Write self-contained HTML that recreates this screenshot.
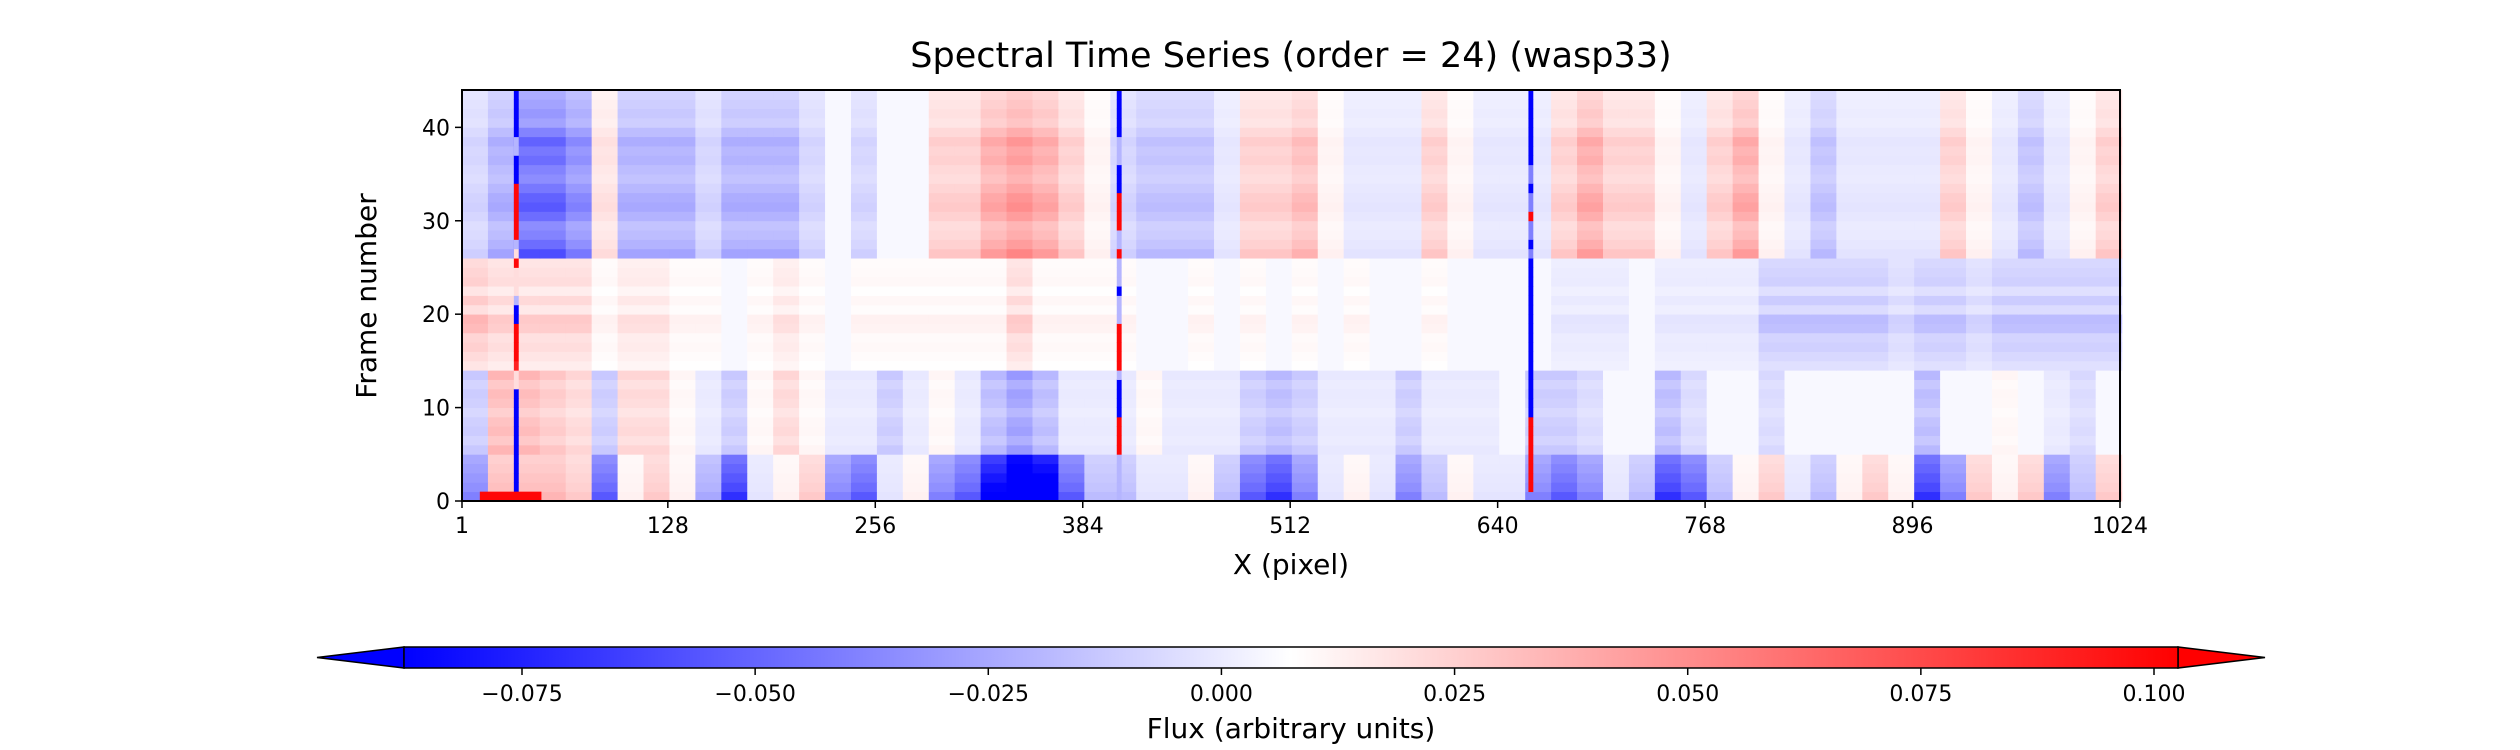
<!DOCTYPE html>
<html><head><meta charset="utf-8"><style>
html,body{margin:0;padding:0;background:#fff;}
svg{display:block;font-family:"DejaVu Sans","Liberation Sans",sans-serif;}
</style></head><body>
<svg id="chart" width="2520" height="750" xmlns="http://www.w3.org/2000/svg">
<text x="1291" y="67" font-size="35" text-anchor="middle" fill="#000">Spectral Time Series (order = 24) (wasp33)</text>
<g id="heat"></g>
<g id="axes"></g>
<g id="cbar"></g>
</svg>
<script>
// ---- data (flux values in units of 0.01) ----
const xTicks = [1,128,256,384,512,640,768,896,1024];
const yTicks = [0,10,20,30,40];
const cbTicks = [-0.075,-0.050,-0.025,0.000,0.025,0.050,0.075,0.100];
const cbLabels = ["\u22120.075","\u22120.050","\u22120.025","0.000","0.025","0.050","0.075","0.100"];
const bandStarts = [0,5,14,26];
const bandTop = [-1,-2,-4,-4,-3,1,-2,-2,-2,-1,-2,-2,-2,-1,0,-1,0,0,1.5,1.5,2.5,3,2.5,1.5,0.5,-1,-1.5,-1.5,-1.5,-0.5,1.5,1.5,2,0.5,-0.5,-0.5,-0.5,1.5,0.5,-0.5,-0.5,-0.5,1.5,2.5,1.5,1.5,0.5,-0.5,1.5,2.5,0.5,-0.5,-1.5,-0.5,-0.5,-0.5,-0.5,1.5,0.5,-0.5,-1.5,-0.5,0.5,1.5];
const bandMid = [2,1.5,1.5,1.5,1.5,0.5,1,1,0.5,0.5,0,0.5,1,0.5,0,0.5,0.5,0.5,0.5,0.5,0.5,1.5,0.5,0.5,0.5,0.5,0,0,0.5,0,0.5,0,0.5,0,0.5,0,0,0.5,0,0,0,0,-0.5,-0.5,-0.5,0,-0.5,-0.5,-0.5,-0.5,-1.5,-1.5,-1.5,-1.5,-1.5,-1,-1.5,-1.5,-1,-1.5,-1.5,-1.5,-1.5,-1.5];
const bandLow = [-1.5,2.5,2.5,2,1.5,-1.5,1.5,1.5,0.5,-0.5,-1.5,0.5,1.5,0.5,-0.5,-0.5,-1.5,-0.5,0.5,-0.5,-2,-3,-2,-0.5,-0.5,-0.5,0.5,-0.5,-0.5,-0.5,-1.5,-2,-1.5,-0.5,-0.5,-0.5,-1.5,-0.5,-0.5,-0.5,0,-1.5,-1.5,-1,0,0,-2,-1,0,0,-1,0,0,0,0,0,-2,0,0,0.5,0,-0.5,-1,0];
const bandBot = [-3,2,2,2,1.5,-4,0.5,1.5,0.5,-2,-5,-0.5,0.5,1.5,-3,-4,-0.5,0.5,-3,-4,-7,-9,-8,-4,-1.5,-1.5,-0.5,-0.5,0.5,-1.5,-4,-5,-3,-0.5,0.5,-0.5,-3,-1.5,0.5,-0.5,-0.5,-3,-4,-3,-0.5,-1.5,-5,-4,-1.5,0.5,1.5,-0.5,-1.5,0.5,1.5,0.5,-5,-3,1.5,0.5,1.5,-3,-1.5,1.5];
const rowScale = [1.5,1.3,1.2,1.1,1.0,1.2,0.9,1.1,1.0,0.8,1.0,1.1,0.9,1.2,0.6,0.8,1.0,0.9,1.4,1.5,0.7,1.1,0.6,1.0,0.9,0.8,1.6,1.3,1.1,1.0,1.3,1.5,1.4,1.2,1.0,1.1,1.3,1.2,1.4,1.1,0.8,0.9,0.8,0.7];
const lineA = [-5,-9,-9,-9,-9,-9,-9,-9,-9,-9,-9,-9,2,2,9,10,10,10,10,-9,-9,-2,2,2,2,10,2,-2,10,10,10,10,10,10,-9,-9,-9,-2,-2,-9,-9,-9,-9,-9];
const lineB = [-2,-2,-2,-2,-2,10,10,10,10,-9,-9,-9,-9,-2,10,10,10,10,10,-2,-2,-2,-9,-2,-2,-2,10,-2,-2,10,10,10,10,-9,-9,-9,-2,-2,-2,-9,-9,-9,-9,-9];
const lineC = [-4,10,10,10,10,10,10,10,10,-9,-9,-9,-9,-9,-9,-9,-9,-9,-9,-9,-9,-9,-9,-9,-9,-9,-4,-9,-4,-4,10,-4,-4,-9,-4,-4,-9,-9,-9,-9,-9,-9,-9,-9];
const lineCols = [33,405,659];
const bottomRed = [12,50];
</script>
<script>
const NS="http://www.w3.org/2000/svg";
const X0=462,X1=2120,Y0=501,Y1=90;
const sx=p=>X0+(p-1)*(X1-X0)/1023;
const sy=f=>Y0-f*(Y0-Y1)/44;
const vmin=-8.77,vmax=10.26;
function color(v){let t=(v-vmin)/(vmax-vmin);t=Math.max(0,Math.min(1,t));let r,g,b;
 if(t<0.5){r=g=Math.round(510*t);b=255;}else{r=255;g=b=Math.round(510*(1-t));}return `rgb(${r},${g},${b})`;}
function mk(tag,attrs,parent){const e=document.createElementNS(NS,tag);for(const k in attrs)e.setAttribute(k,attrs[k]);parent.appendChild(e);return e;}
const heat=document.getElementById('heat');
const bands=[bandBot,bandLow,bandMid,bandTop];
for(let r=0;r<44;r++){
 let bi=0;for(let i=0;i<bandStarts.length;i++) if(r>=bandStarts[i]) bi=i;
 const band=bands[bi];
 for(let k=0;k<64;k++){
  const v=band[k]*rowScale[r]+0.5;
  const e=mk('rect',{x:sx(1+16*k),y:sy(r+1),width:sx(17+16*k)-sx(1+16*k)+0.6,height:sy(r)-sy(r+1)+0.4,fill:color(v)},heat);
  
  
 }
}
const lines=[lineA,lineB,lineC];
lines.forEach((arr,i)=>{for(let r=0;r<44;r++){
 const e=mk('rect',{x:sx(lineCols[i]),y:sy(r+1),width:sx(lineCols[i]+3)-sx(lineCols[i]),height:sy(r)-sy(r+1)+0.4,fill:color(arr[r])},heat);
 
 
}});
{const e=mk('rect',{x:sx(bottomRed[0]),y:sy(1),width:sx(bottomRed[1])-sx(bottomRed[0]),height:sy(0)-sy(1),fill:color(10)},heat);
 
 }
// axes
const ax=document.getElementById('axes');
{const e=mk('rect',{x:X0,y:Y1,width:X1-X0,height:Y0-Y1,fill:'none',stroke:'#000','stroke-width':2},ax);
 }
xTicks.forEach(t=>{const x=sx(t);
 const l=mk('line',{x1:x,x2:x,y1:Y0,y2:Y0+7,stroke:'#000','stroke-width':1.5},ax);
 
 const tx=mk('text',{x:x,y:Y0+32,'font-size':22,'text-anchor':'middle'},ax);tx.textContent=t;
 });
yTicks.forEach(t=>{const y=sy(t);
 const l=mk('line',{x1:X0-7,x2:X0,y1:y,y2:y,stroke:'#000','stroke-width':1.5},ax);
 
 const tx=mk('text',{x:X0-12,y:y+8,'font-size':22,'text-anchor':'end'},ax);tx.textContent=t;
 });
{const t=mk('text',{x:1291,y:574,'font-size':28,'text-anchor':'middle'},ax);t.textContent='X (pixel)';
 
 const u=mk('text',{x:0,y:0,'font-size':28,'text-anchor':'middle',transform:'translate(376,296) rotate(-90)'},ax);u.textContent='Frame number';
 }
// colorbar
const cb=document.getElementById('cbar');
const C0=404,C1=2178,CT=647,CB=668;
const cv=v=>522+(v+0.075)*(2154-522)/0.175;
const defs=mk('defs',{},cb);
const g=mk('linearGradient',{id:'grad',x1:0,x2:1,y1:0,y2:0},defs);
for(let i=0;i<=20;i++){const val=-0.0877+i*(0.1903/20);mk('stop',{offset:i/20,'stop-color':color(val*100)},g);}
{const e=mk('polygon',{points:`317,657.5 ${C0},${CT} ${C0},${CB}`,fill:color(-20),stroke:'#000','stroke-width':1.5},cb);
 
 const f=mk('polygon',{points:`2265,657.5 ${C1},${CT} ${C1},${CB}`,fill:color(20),stroke:'#000','stroke-width':1.5},cb);
 
 const r=mk('rect',{x:C0,y:CT,width:C1-C0,height:CB-CT,fill:'url(#grad)',stroke:'#000','stroke-width':1.5},cb);
 }
cbTicks.forEach((v,i)=>{const x=cv(v);
 const l=mk('line',{x1:x,x2:x,y1:CB,y2:CB+7,stroke:'#000','stroke-width':1.5},cb);
 
 const t=mk('text',{x:x,y:701,'font-size':22,'text-anchor':'middle'},cb);t.textContent=cbLabels[i];
 });
{const t=mk('text',{x:1291,y:738,'font-size':28,'text-anchor':'middle'},cb);t.textContent='Flux (arbitrary units)';
 }
</script>
</body></html>
